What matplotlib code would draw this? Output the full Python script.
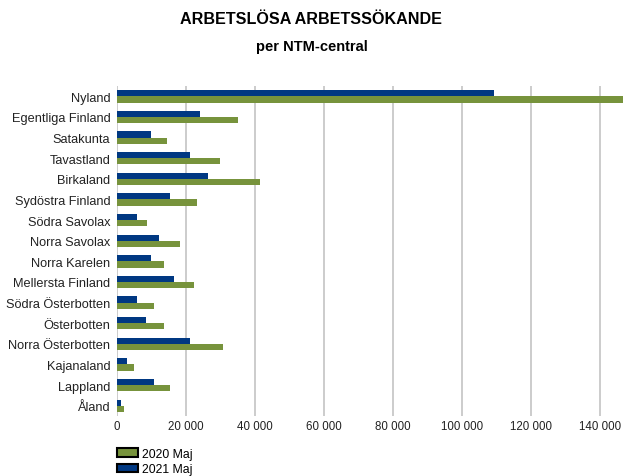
import numpy as np
import matplotlib
matplotlib.use("Agg")
import matplotlib.pyplot as plt
from matplotlib.patches import Patch
from matplotlib.ticker import FuncFormatter

plt.rcParams['font.family'] = ['Liberation Sans', 'DejaVu Sans']

regions = ["Nyland", "Egentliga Finland", "Satakunta", "Tavastland", "Birkaland",
           "Sydöstra Finland", "Södra Savolax", "Norra Savolax", "Norra Karelen",
           "Mellersta Finland", "Södra Österbotten", "Österbotten", "Norra Österbotten",
           "Kajanaland", "Lappland", "Åland"]
maj_2020 = [148000, 35100, 14600, 29900, 41500, 23200, 8800, 18300, 13700,
            22400, 10800, 13700, 30800, 5000, 15400, 2100]
maj_2021 = [109200, 24100, 9900, 21200, 26400, 15400, 5900, 12200, 9900,
            16600, 5900, 8500, 21200, 3000, 10800, 1200]
xticks = [0, 20000, 40000, 60000, 80000, 100000, 120000, 140000]

c_green = '#77933C'
c_blue = '#003882'

fig = plt.figure(figsize=(6.23, 4.77), dpi=100)
ax = fig.add_axes([116.5/623, 1-417/477, (623-116.5)/623, 330/477])

y = np.arange(len(regions))
h = 0.3
ax.barh(y - h/2, maj_2021, height=h, color=c_blue, zorder=3)
ax.barh(y + h/2, maj_2020, height=h, color=c_green, zorder=3)

ax.set_ylim(len(regions) - 0.5, -0.5)
ax.set_xlim(0, 146600)
ax.set_yticks(y)
ax.set_yticklabels(regions, fontsize=9.2, color='#222222')
ax.set_xticks(xticks)
ax.xaxis.set_major_formatter(FuncFormatter(lambda v, p: f"{int(v):,}".replace(",", " ")))
ax.tick_params(axis='x', labelsize=8.3, colors='#222222', length=0, pad=3)
ax.tick_params(axis='y', length=0, pad=4.5)
ax.grid(axis='x', color='#c4c4c4', linewidth=1.2, zorder=0)
for s in ax.spines.values():
    s.set_visible(False)

fig.text(0.5, 1-20/477, "ARBETSLÖSA ARBETSSÖKANDE", ha='center', va='center',
         fontsize=11.6, fontweight='bold')
fig.text(0.5, 1-47/477, "per NTM-central", ha='center', va='center',
         fontsize=10.5, fontweight='bold')

handles = [Patch(facecolor=c_green, edgecolor='black', linewidth=1.5, label='2020 Maj'),
           Patch(facecolor=c_blue, edgecolor='black', linewidth=1.5, label='2021 Maj')]
fig.legend(handles=handles, loc='upper left', bbox_to_anchor=(117/623, 1-449/477),
           frameon=False, fontsize=8.8, handlelength=1.7, handleheight=0.7,
           handletextpad=0.35, labelspacing=0.25, borderpad=0, borderaxespad=0)

fig.savefig("out.png", dpi=100)
